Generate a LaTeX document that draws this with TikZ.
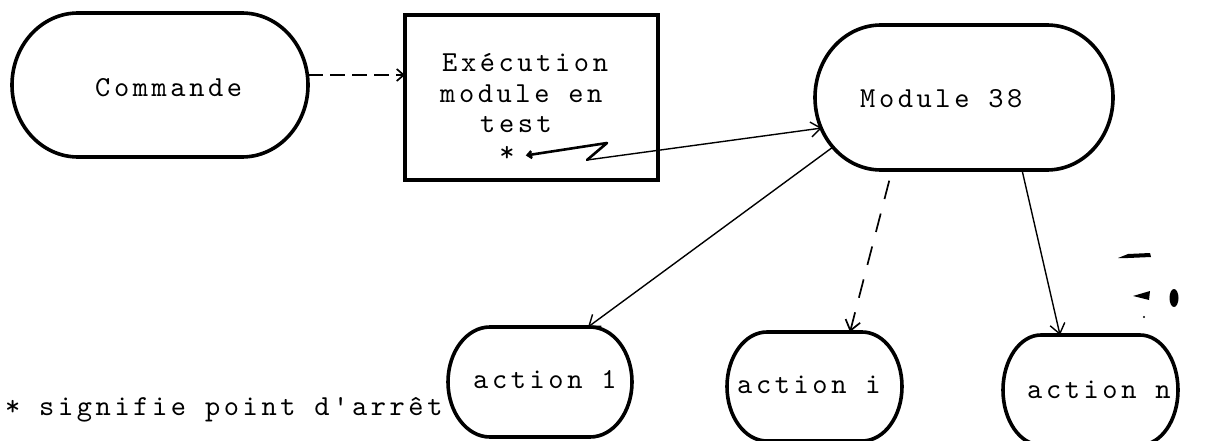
\documentclass[tikz,border=0pt]{standalone}
\usepackage{fontspec}
\usetikzlibrary{arrows.meta,calc}

% typewriter face with wide letter pitch
\newfontfamily\twfam{lmmono10-regular}[Extension=.otf, LetterSpace=12.4]
\newcommand\twfont{\twfam\fontsize{29}{31}\selectfont}

% oval outline round an invisible holder node: #1 node, #2 end x radius, #3 end y radius
\newcommand\ovalframe[3]{%
  \draw[frame] ([xshift=#2]#1.north west) -- ([xshift=-#2]#1.north east)
    arc[start angle=90, end angle=-90, x radius=#2, y radius=#3]
    -- ([xshift=#2]#1.south west)
    arc[start angle=270, end angle=90, x radius=#2, y radius=#3] -- cycle;}

\tikzset{
  frame/.style={line width=3.6pt, line join=round},
  holder/.style={rectangle, draw=none, inner sep=0pt, outer sep=0pt},
  txt/.style={font=\twfont, inner sep=0pt, anchor=base west},
  conn/.style={line width=1.4pt, line cap=round},
  zig/.style={line width=2.6pt, line join=round, line cap=round},
  dashconn/.style={line width=1.7pt, dash pattern=on 15pt off 7pt},
  longdash/.style={line width=1.7pt, dash pattern=on 19pt off 15pt},
  blot/.style={fill=black, draw=none}
}

\begin{document}
\begin{tikzpicture}[x=1pt, y=-1pt, >={Straight Barb[length=10pt,width=15pt]}]
\useasboundingbox (0,0) rectangle (1210,441);
\fill[white] (0,0) rectangle (1210,441);

% Commande
\node[holder, minimum width=296pt, minimum height=144pt] (cmd) at (160,85) {};
\ovalframe{cmd}{66pt}{72pt}
\node[txt] (cmdtext) at (95,97) {Commande};

% module under test
\node[draw, line width=3.4pt, minimum width=253pt, minimum height=165pt, inner sep=0pt, outer sep=0pt] (box) at (531.5,97.5) {};
\node[txt] (boxl1) at (442,72) {Exécution};
\node[txt] (boxl2) at (440,103) {module en};
\node[txt] (boxl3) at (480,133) {test};
\node[font=\twfont, inner sep=0pt, anchor=base] (star) at (507,161) {*};

% Module 38
\node[holder, minimum width=298pt, minimum height=145pt] (mod) at (964,97.5) {};
\ovalframe{mod}{66pt}{72.5pt}
\node[txt] (modtext) at (860,108) {Module 38};

% actions
\node[holder, minimum width=184pt, minimum height=110pt] (a1) at (540,382) {};
\ovalframe{a1}{42pt}{55pt}
\node[txt] (a1text) at (473,388) {action 1};

\node[holder, minimum width=175pt, minimum height=109pt] (ai) at (814.5,386.5) {};
\ovalframe{ai}{40pt}{54.5pt}
\node[txt] (aitext) at (737,393) {action i};

\node[holder, minimum width=175pt, minimum height=110pt] (an) at (1090.5,390) {};
\ovalframe{an}{38pt}{55pt}
\node[txt] (antext) at (1027,398) {action n};

% legend
\node[txt] (legend) at (5,415) {* signifie point d'arrêt};

% connectors
\coordinate (cmdout) at ([yshift=10pt]cmd.east);
\draw[dashconn, -{Straight Barb[length=7pt,width=12pt]}] (cmdout) -- (cmdout -| box.west);

\coordinate (z1) at (607,143);
\coordinate (z2) at (587,160);
\coordinate (modin) at ([xshift=7pt,yshift=-30.5pt]mod.west);
\draw[zig, {Straight Barb[length=4pt,width=7pt]}-] ([xshift=11pt,yshift=-2pt]star.east) -- (z1) -- (z2);
\draw[conn, ->] (z2) -- (modin);

\coordinate (modout1) at ([xshift=18pt,yshift=-49.5pt]mod.west);
\draw[conn, ->] (modout1) -- ([xshift=48pt]a1.north);
\draw[longdash, ->, shorten <=11pt] ([xshift=-72pt]mod.south) -- ([xshift=35.5pt]ai.north);
\draw[conn, ->] ([xshift=58pt]mod.south) -- ([xshift=-30.5pt]an.north);

% ink blots beside the last action
\fill[blot] (1118,258) -- (1128,254) -- (1150,253) -- (1151,257) -- (1128,258) -- cycle;
\fill[blot] (1133,296) -- (1150,291) -- (1149,300) -- cycle;
\fill[blot] (1174,298) ellipse[x radius=4.5pt, y radius=9pt];
\fill[blot] (1144,317) circle[radius=1.2pt];
\end{tikzpicture}
\end{document}
